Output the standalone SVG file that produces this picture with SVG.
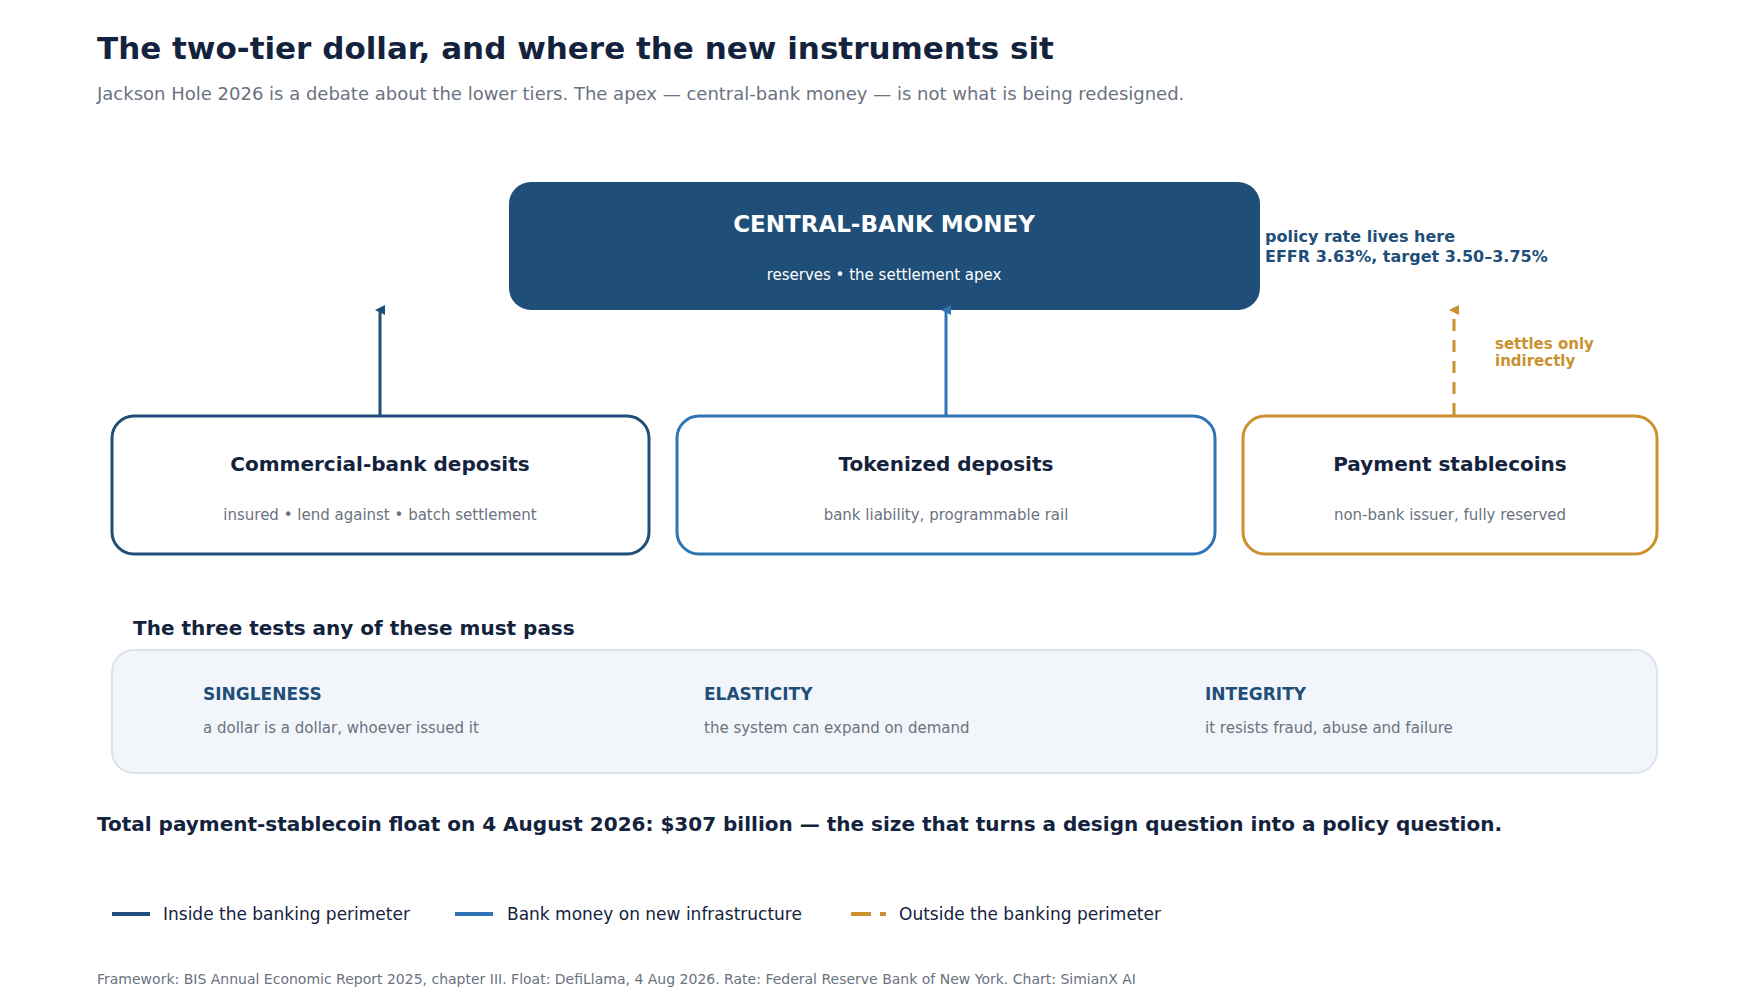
<svg xmlns="http://www.w3.org/2000/svg" width="1760" height="990" viewBox="0 0 1760 990">
<style>
text{font-family:"DejaVu Sans","Liberation Sans",sans-serif}
.t{fill:#14233d;font-weight:bold}
.g{fill:#6b7280}
.box{fill:#fff;stroke-width:3}
.hd{fill:#1f4e79;font-weight:bold;font-size:17px}
</style>
<defs>
<marker id="a1" markerWidth="10" markerHeight="10" refX="5" refY="5" orient="auto" markerUnits="userSpaceOnUse" viewBox="0 0 10 10"><path d="M0,10 L5,0 L10,10 Z" fill="#1f4e79"/></marker>
<marker id="a2" markerWidth="10" markerHeight="10" refX="5" refY="5" orient="auto" markerUnits="userSpaceOnUse" viewBox="0 0 10 10"><path d="M0,10 L5,0 L10,10 Z" fill="#2e75b6"/></marker>
<marker id="a3" markerWidth="10" markerHeight="10" refX="5" refY="5" orient="auto" markerUnits="userSpaceOnUse" viewBox="0 0 10 10"><path d="M0,10 L5,0 L10,10 Z" fill="#c9922e"/></marker>
</defs>
<rect width="1760" height="990" fill="#fff"/>
<text x="97" y="59" class="t" font-size="31" fill="#14233d">The two-tier dollar, and where the new instruments sit</text>
<text x="97" y="100" class="g" font-size="18">Jackson Hole 2026 is a debate about the lower tiers. The apex — central-bank money — is not what is being redesigned.</text>

<g id="central">
<rect x="509" y="182" width="751" height="128" rx="22" fill="#1f4e79"/>
<text x="884" y="232" text-anchor="middle" font-size="23" font-weight="bold" fill="#fff">CENTRAL-BANK MONEY</text>
<text x="884" y="280" text-anchor="middle" font-size="15" fill="#fff">reserves • the settlement apex</text>
</g>
<g id="policy">
<text x="1265" y="242" font-size="16" font-weight="bold" fill="#1f4e79">policy rate lives here</text>
<text x="1265" y="262" font-size="16" font-weight="bold" fill="#1f4e79">EFFR 3.63%, target 3.50–3.75%</text>
</g>

<g id="connectors">
<line x1="380" y1="415" x2="380" y2="310" stroke="#1f4e79" stroke-width="3" marker-end="url(#a1)"/>
<line x1="946" y1="415" x2="946" y2="310" stroke="#2e75b6" stroke-width="3" marker-end="url(#a2)"/>
<line x1="1454" y1="415" x2="1454" y2="310" stroke="#c9922e" stroke-width="3" stroke-dasharray="12,9" marker-end="url(#a3)"/>
<text x="1495" y="349" font-size="15" font-weight="bold" fill="#c9922e">settles only</text>
<text x="1495" y="366" font-size="15" font-weight="bold" fill="#c9922e">indirectly</text>
</g>

<g id="commercial">
<rect class="box" x="112" y="416" width="537" height="138" rx="22" stroke="#1f4e79"/>
<text x="380" y="471" text-anchor="middle" class="t" font-size="20">Commercial-bank deposits</text>
<text x="380" y="520" text-anchor="middle" class="g" font-size="15">insured • lend against • batch settlement</text>
</g>
<g id="tokenized">
<rect class="box" x="677" y="416" width="538" height="138" rx="22" stroke="#2e75b6"/>
<text x="946" y="471" text-anchor="middle" class="t" font-size="20">Tokenized deposits</text>
<text x="946" y="520" text-anchor="middle" class="g" font-size="15">bank liability, programmable rail</text>
</g>
<g id="stablecoins">
<rect class="box" x="1243" y="416" width="414" height="138" rx="22" stroke="#c9922e"/>
<text x="1450" y="471" text-anchor="middle" class="t" font-size="20">Payment stablecoins</text>
<text x="1450" y="520" text-anchor="middle" class="g" font-size="15">non-bank issuer, fully reserved</text>
</g>

<g id="tests">
<text x="133" y="635" class="t" font-size="20">The three tests any of these must pass</text>
<rect x="112" y="650" width="1545" height="123" rx="22" fill="#f2f6fb" stroke="#dbe4ee" stroke-width="2"/>
<text x="203" y="700" class="hd">SINGLENESS</text>
<text x="203" y="733" class="g" font-size="15">a dollar is a dollar, whoever issued it</text>
<text x="704" y="700" class="hd">ELASTICITY</text>
<text x="704" y="733" class="g" font-size="15">the system can expand on demand</text>
<text x="1205" y="700" class="hd">INTEGRITY</text>
<text x="1205" y="733" class="g" font-size="15">it resists fraud, abuse and failure</text>
</g>

<text x="97" y="831" class="t" font-size="20">Total payment-stablecoin float on 4 August 2026: $307 billion — the size that turns a design question into a policy question.</text>

<g id="legend">
<line x1="112" y1="914" x2="150" y2="914" stroke="#1f4e79" stroke-width="4"/>
<text x="163" y="920" font-size="17" fill="#14233d">Inside the banking perimeter</text>
<line x1="455" y1="914" x2="493" y2="914" stroke="#2e75b6" stroke-width="4"/>
<text x="507" y="920" font-size="17" fill="#14233d">Bank money on new infrastructure</text>
<line x1="851" y1="914" x2="886" y2="914" stroke="#c9922e" stroke-width="4" stroke-dasharray="20,9"/>
<text x="899" y="920" font-size="17" fill="#14233d">Outside the banking perimeter</text>
</g>
<text x="97" y="984" class="g" font-size="14">Framework: BIS Annual Economic Report 2025, chapter III. Float: DefiLlama, 4 Aug 2026. Rate: Federal Reserve Bank of New York.  Chart: SimianX AI</text>
</svg>
